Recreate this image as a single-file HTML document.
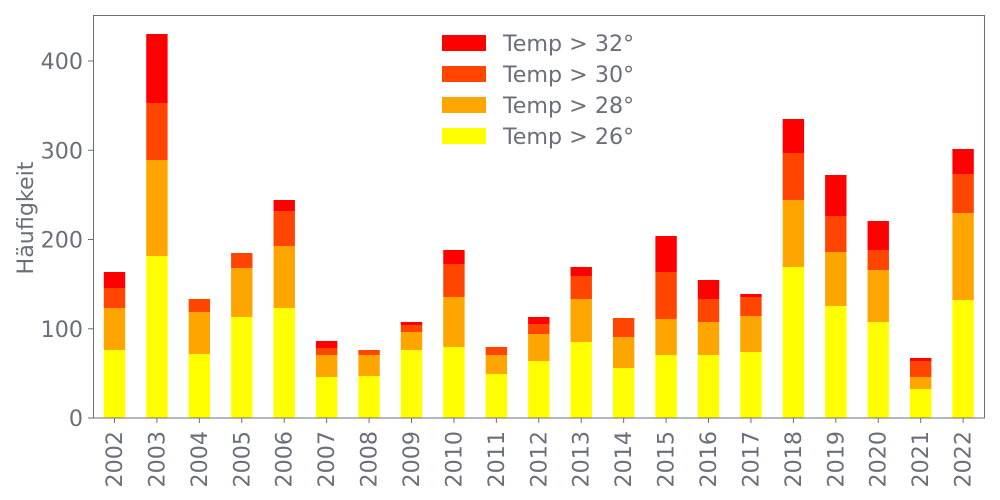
<!DOCTYPE html>
<html><head><meta charset="utf-8"><style>
body{margin:0;background:#fff;}
svg{display:block;font-family:"DejaVu Sans","Liberation Sans",sans-serif;}
</style></head><body>
<svg id="s" width="1000" height="500" viewBox="0 0 1000 500" xmlns="http://www.w3.org/2000/svg">
<rect x="0" y="0" width="1000" height="500" fill="#fff"/>
<g id="bars"></g>
<rect x="93.5" y="15.5" width="891" height="402.5" fill="none" stroke="#6b6f7a" stroke-width="1"/>
<g id="ax" fill="#6b6f7a" font-size="22.2"></g>
<text transform="translate(33,218) rotate(-90)" text-anchor="middle" font-size="22.2" fill="#6b6f7a">Häufigkeit</text>
<g font-size="22.2" fill="#6b6f7a">
<rect x="442" y="35" width="44" height="16" fill="#ff0000"/><text x="503" y="51">Temp &gt; 32°</text>
<rect x="442" y="66" width="44" height="16" fill="#ff4500"/><text x="503" y="82">Temp &gt; 30°</text>
<rect x="442" y="97" width="44" height="16" fill="#ffa500"/><text x="503" y="113">Temp &gt; 28°</text>
<rect x="442" y="128" width="44" height="16" fill="#ffff00"/><text x="503" y="144">Temp &gt; 26°</text>
</g>
</svg>
<script>
var d=[[350,308,288,272],[256,160,103,34],[354,312,299,299],[317,268,253,253],[308,246,211,200],[377,355,348,341],[376,355,350,350],[350,332,325,322],[347,297,264,250],[374,355,347,347],[361,334,324,317],[342,299,276,267],[368,337,318,318],[355,319,272,236],[355,322,299,280],[352,316,297,294],[267,200,153,119],[306,252,216,175],[322,270,250,221],[389,377,361,358],[300,213,174,149]];
var c=["#ffff00","#ffa500","#ff4500","#ff0000"];
var ns="http://www.w3.org/2000/svg",b=document.getElementById("bars"),ax=document.getElementById("ax");
function el(t,a,p,txt){var e=document.createElementNS(ns,t);for(var k in a)e.setAttribute(k,a[k]);if(txt)e.textContent=txt;p.appendChild(e);return e;}
d.forEach(function(r,i){var cx=114.5+i*42.43,prev=418;
 r.forEach(function(y,j){if(prev-y>0)el("rect",{x:cx-10.7,y:y,width:21.4,height:prev-y,fill:c[j]},b);prev=y;});
 el("line",{x1:cx,x2:cx,y1:418,y2:423,stroke:"#6b6f7a"},ax);
 el("text",{transform:"translate("+(cx+7.5)+",431) rotate(-90)","text-anchor":"end"},ax,String(2002+i));
});
[0,100,200,300,400].forEach(function(v){var y=418-v*0.8925;
 el("line",{x1:88,x2:93,y1:y,y2:y,stroke:"#6b6f7a"},ax);
 el("text",{x:83,y:y+8,"text-anchor":"end"},ax,String(v));});
</script>
</body></html>
